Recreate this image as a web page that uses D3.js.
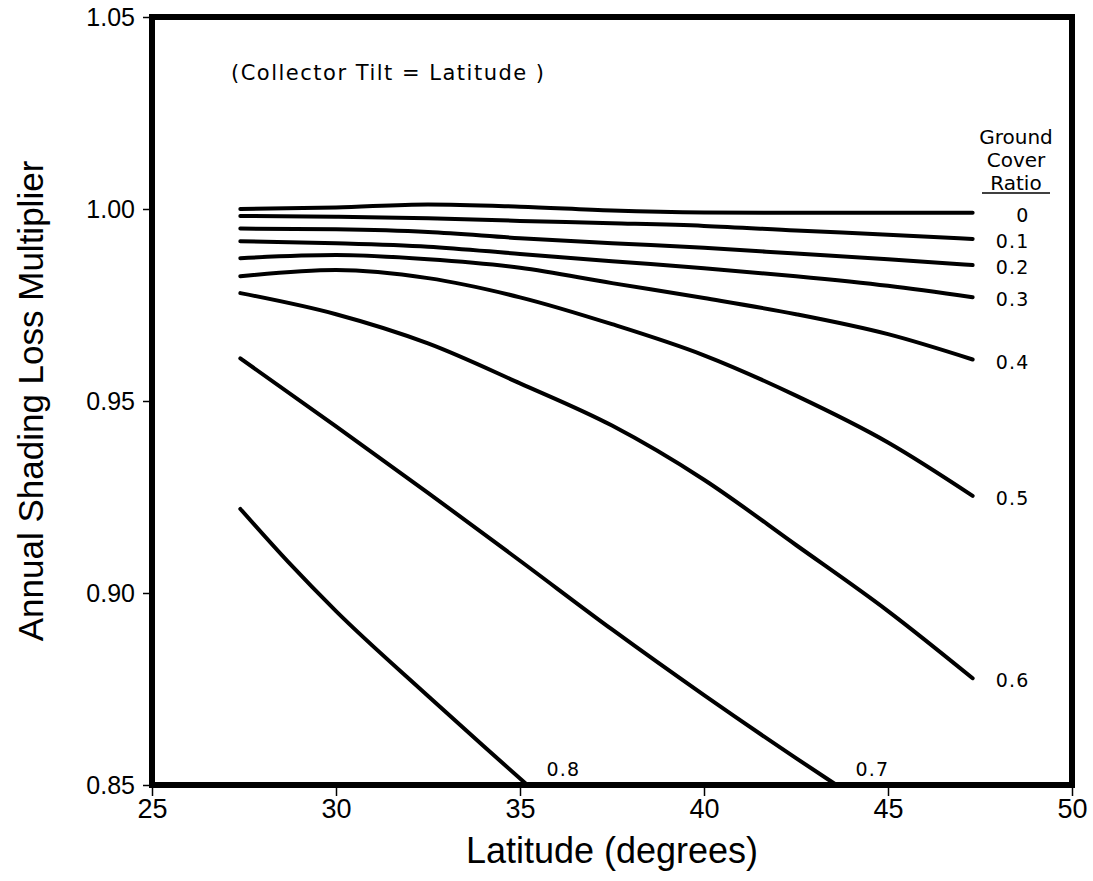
<!DOCTYPE html>
<html lang="en">
<head>
    <meta charset="UTF-8">
    <title>Annual Shading Loss Multiplier</title>
    <script src="https://d3js.org/d3.v7.min.js"></script>
    <style>
        body {margin: 0; background: white;}
        .tick text {font-family: "Liberation Sans", Arial, sans-serif; fill: black;}
        .axis-title {font-family: "Liberation Sans", Arial, sans-serif;}
        .note {font-family: "DejaVu Sans", sans-serif;}
    </style>
</head>
<body>
<script>
    const width = 1093;
    const height = 881;
    const margin = {top: 17, right: 21, bottom: 96, left: 152};

    // latitude samples shared by the upper curves
    const lat = [27.4, 30, 32.5, 35, 37.5, 40, 42.5, 45, 47.3];

    // ground cover ratio -> multiplier
    const gcr0  = [1.0000, 1.0004, 1.0012, 1.0006, 0.9996, 0.9991, 0.9990, 0.9990, 0.9990];
    const gcr01 = [0.9982, 0.9980, 0.9976, 0.9969, 0.9963, 0.9956, 0.9944, 0.9933, 0.9922];
    const gcr02 = [0.9949, 0.9947, 0.9940, 0.9924, 0.9911, 0.9899, 0.9884, 0.9869, 0.9854];
    const gcr03 = [0.9916, 0.9911, 0.9902, 0.9883, 0.9864, 0.9846, 0.9825, 0.9800, 0.9770];
    const gcr04 = [0.9872, 0.9880, 0.9869, 0.9847, 0.9807, 0.9768, 0.9726, 0.9674, 0.9608];
    const gcr05 = [0.9825, 0.9841, 0.9820, 0.9770, 0.9700, 0.9619, 0.9514, 0.9392, 0.9253];
    const gcr06 = [0.9781, 0.9726, 0.9650, 0.9546, 0.9436, 0.9295, 0.9125, 0.8953, 0.8778];

    // the two steepest curves run out of the frame early
    const lat07 = [27.4, 30, 32.5, 35, 37.5, 40, 42.5, 43.6];
    const gcr07 = [0.9611, 0.9434, 0.9261, 0.9084, 0.8905, 0.8734, 0.8570, 0.8500];
    const lat08 = [27.4, 28.7, 30, 32.5, 34, 35.2];
    const gcr08 = [0.9219, 0.9081, 0.8953, 0.8732, 0.8602, 0.8500];

    const xTicks = [25, 30, 35, 40, 45, 50];
    const yTicks = [0.85, 0.90, 0.95, 1.00, 1.05];
    const legendTitle = ["Ground", "Cover", "Ratio"];

    const series = [
        {label: "0",   x: lat,   y: gcr0,  at: "end"},
        {label: "0.1", x: lat,   y: gcr01, at: "end"},
        {label: "0.2", x: lat,   y: gcr02, at: "end"},
        {label: "0.3", x: lat,   y: gcr03, at: "end"},
        {label: "0.4", x: lat,   y: gcr04, at: "end"},
        {label: "0.5", x: lat,   y: gcr05, at: "end"},
        {label: "0.6", x: lat,   y: gcr06, at: "end"},
        {label: "0.7", x: lat07, y: gcr07, at: "bottom"},
        {label: "0.8", x: lat08, y: gcr08, at: "bottom"}
    ];

    const svg = d3.select("body").append("svg")
            .attr("width", width).attr("height", height);

    const x = d3.scaleLinear().domain([25, 50])
            .range([margin.left, width - margin.right]);
    const y = d3.scaleLinear().domain([0.85, 1.05])
            .range([height - margin.bottom, margin.top]);

    // axes
    const xAxis = svg.append("g")
            .attr("transform", `translate(0,${y(0.85)})`)
            .call(d3.axisBottom(x).tickValues(xTicks).tickSize(11).tickPadding(3)
                    .tickFormat(d3.format("d")));
    xAxis.selectAll("text").style("font-size", "27px");

    const yAxis = svg.append("g")
            .attr("transform", `translate(${x(25)},0)`)
            .call(d3.axisLeft(y).tickValues(yTicks).tickSize(9).tickPadding(8)
                    .tickFormat(d3.format(".2f")));
    yAxis.selectAll("text").style("font-size", "25px");

    svg.selectAll(".domain").remove();
    svg.selectAll(".tick line").style("stroke", "black").style("stroke-width", 1.5);

    // heavy frame
    svg.append("rect")
            .attr("x", x(25)).attr("y", y(1.05))
            .attr("width", x(50) - x(25)).attr("height", y(0.85) - y(1.05))
            .style("fill", "none").style("stroke", "black").style("stroke-width", 6);

    // curves
    const line = d3.line()
            .x(d => x(d[0])).y(d => y(d[1]))
            .curve(d3.curveMonotoneX);

    const curve = svg.selectAll("g.curve")
            .data(series)
            .enter()
            .append("g")
            .attr("class", "curve");

    curve.append("path")
            .attr("d", s => line(s.x.map((v, i) => [v, s.y[i]])))
            .style("fill", "none")
            .style("stroke", "black")
            .style("stroke-width", 4)
            .style("stroke-linecap", "round");

    curve.append("text")
            .attr("class", "note")
            .attr("text-anchor", s => s.at === "end" ? "end" : "middle")
            .attr("x", s => x(s.x[s.x.length - 1]) + (s.at === "end" ? 57 : 36))
            .attr("y", s => s.at === "end" ? y(s.y[s.y.length - 1]) + 9 : y(0.85) - 9)
            .style("font-size", "19px")
            .style("letter-spacing", "1.2px")
            .text(s => s.label);

    // legend heading
    const legend = svg.append("text")
            .attr("class", "note")
            .attr("text-anchor", "middle")
            .style("font-size", "20px");
    legendTitle.forEach((t, i) => {
        legend.append("tspan").attr("x", 1016).attr("y", 144 + i * 23).text(t);
    });
    svg.append("line")
            .attr("x1", 982).attr("x2", 1050)
            .attr("y1", 193).attr("y2", 193)
            .style("stroke", "black").style("stroke-width", 1.5);

    svg.append("text")
            .attr("class", "note")
            .attr("x", 231).attr("y", 80)
            .style("font-size", "21px")
            .style("letter-spacing", "1.5px")
            .text("(Collector Tilt = Latitude )");

    // axis titles
    svg.append("text")
            .attr("class", "axis-title")
            .attr("text-anchor", "middle")
            .style("font-size", "36px")
            .attr("x", (x(25) + x(50)) / 2).attr("y", 863)
            .text("Latitude (degrees)");

    svg.append("text")
            .attr("class", "axis-title")
            .attr("text-anchor", "middle")
            .style("font-size", "35px")
            .attr("transform", `translate(43,${(y(0.85) + y(1.05)) / 2}) rotate(-90)`)
            .text("Annual Shading Loss Multiplier");
</script>
</body>
</html>
